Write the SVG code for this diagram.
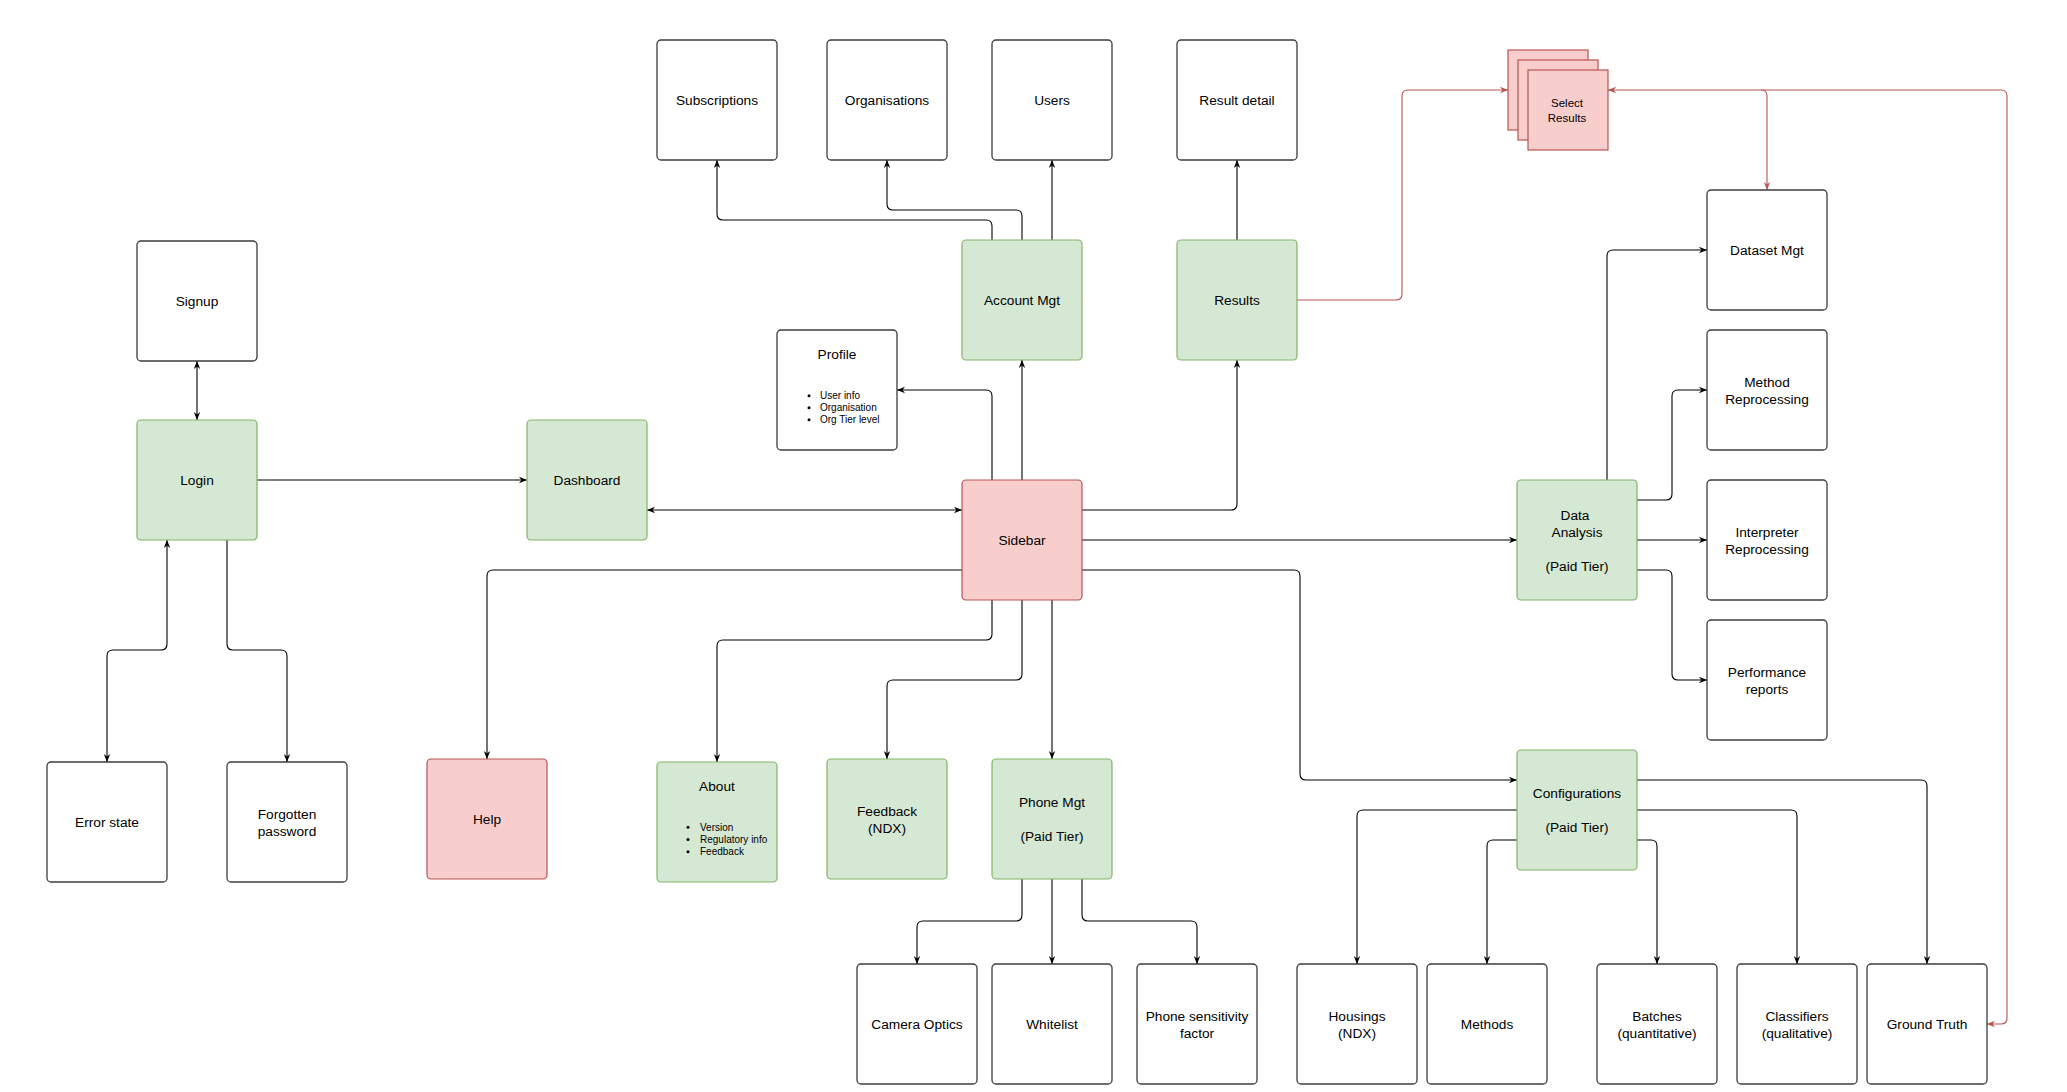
<svg xmlns="http://www.w3.org/2000/svg" width="2067" height="1092" viewBox="0 0 2067 1092">
<style>
text{font-family:"Liberation Sans",Arial,Helvetica,sans-serif;font-size:13.7px;fill:#000;text-anchor:middle}
.sm{font-size:10px;text-anchor:start}
.sr{font-size:11.5px}
.w{fill:#fff;stroke:#3c3c3c;stroke-width:1.3}
.g{fill:#d5e8d4;stroke:#82b366;stroke-width:1.2}
.r{fill:#f8cecc;stroke:#b85450;stroke-width:1.2}
.c{fill:none;stroke:#000;stroke-width:1.1}
.cr{fill:none;stroke:#b85450;stroke-width:1.1}
.e{marker-end:url(#ab)}
.b{marker-start:url(#ab);marker-end:url(#ab)}
.er{marker-end:url(#ar)}
.br{marker-start:url(#ar);marker-end:url(#ar)}
</style>
<defs>
<marker id="ab" viewBox="0 0 10 10" refX="10" refY="5" markerWidth="8" markerHeight="8" markerUnits="userSpaceOnUse" orient="auto-start-reverse"><path d="M0,1 L10,5 L0,9 L3,5 z" fill="#000"/></marker>
<marker id="ar" viewBox="0 0 10 10" refX="10" refY="5" markerWidth="8" markerHeight="8" markerUnits="userSpaceOnUse" orient="auto-start-reverse"><path d="M0,1 L10,5 L0,9 L3,5 z" fill="#b85450"/></marker>
</defs>
<rect width="2067" height="1092" fill="#fff"/>
<g id="connectors">
<path class="c b" d="M197 361 V420"/>
<path class="c e" d="M257 480 H527"/>
<path class="c b" d="M962 510 H647"/>
<path class="c b" d="M167 540 V644 Q167 650 161 650 H113 Q107 650 107 656 V762"/>
<path class="c e" d="M227 540 V644 Q227 650 233 650 H281 Q287 650 287 656 V762"/>
<path class="c e" d="M962 570 H493 Q487 570 487 576 V759"/>
<path class="c e" d="M992 600 V634 Q992 640 986 640 H723 Q717 640 717 646 V762"/>
<path class="c e" d="M1022 600 V674 Q1022 680 1016 680 H893 Q887 680 887 686 V759"/>
<path class="c e" d="M1052 600 V759"/>
<path class="c e" d="M1022 480 V360"/>
<path class="c e" d="M992 480 V396 Q992 390 986 390 H897"/>
<path class="c e" d="M992 240 V226 Q992 220 986 220 H723 Q717 220 717 214 V160"/>
<path class="c e" d="M1022 240 V216 Q1022 210 1016 210 H893 Q887 210 887 204 V160"/>
<path class="c e" d="M1052 240 V160"/>
<path class="c e" d="M1237 240 V160"/>
<path class="c e" d="M1082 510 H1231 Q1237 510 1237 504 V360"/>
<path class="c e" d="M1082 540 H1517"/>
<path class="c e" d="M1082 570 H1294 Q1300 570 1300 576 V774 Q1300 780 1306 780 H1517"/>
<path class="c e" d="M1607 480 V256 Q1607 250 1613 250 H1707"/>
<path class="c e" d="M1637 500 H1666 Q1672 500 1672 494 V396 Q1672 390 1678 390 H1707"/>
<path class="c e" d="M1637 540 H1707"/>
<path class="c e" d="M1637 570 H1666 Q1672 570 1672 576 V674 Q1672 680 1678 680 H1707"/>
<path class="c e" d="M1517 810 H1363 Q1357 810 1357 816 V964"/>
<path class="c e" d="M1517 840 H1493 Q1487 840 1487 846 V964"/>
<path class="c e" d="M1637 840 H1651 Q1657 840 1657 846 V964"/>
<path class="c e" d="M1637 810 H1791 Q1797 810 1797 816 V964"/>
<path class="c e" d="M1637 780 H1921 Q1927 780 1927 786 V964"/>
<path class="c e" d="M1022 879 V915 Q1022 921 1016 921 H923 Q917 921 917 927 V964"/>
<path class="c e" d="M1052 879 V964"/>
<path class="c e" d="M1082 879 V915 Q1082 921 1088 921 H1191 Q1197 921 1197 927 V964"/>
<path class="cr er" d="M1297 300 H1396 Q1402 300 1402 294 V96 Q1402 90 1408 90 H1508"/>
<path class="cr br" d="M1608 90 H1761 Q1767 90 1767 96 V190"/>
<path class="cr er" d="M1761 90 H2001 Q2007 90 2007 96 V1018 Q2007 1024 2001 1024 H1987"/>
</g>
<g id="signup"><rect class="w" x="137" y="241" width="120" height="120" rx="4"/><text x="197" y="306">Signup</text></g>
<g id="login"><rect class="g" x="137" y="420" width="120" height="120" rx="4"/><text x="197" y="485">Login</text></g>
<g id="dashboard"><rect class="g" x="527" y="420" width="120" height="120" rx="4"/><text x="587" y="485">Dashboard</text></g>
<g id="error-state"><rect class="w" x="47" y="762" width="120" height="120" rx="4"/><text x="107" y="827">Error state</text></g>
<g id="forgotten-password"><rect class="w" x="227" y="762" width="120" height="120" rx="4"/><text x="287" y="818.5">Forgotten</text><text x="287" y="835.5">password</text></g>
<g id="help"><rect class="r" x="427" y="759" width="120" height="120" rx="4"/><text x="487" y="824">Help</text></g>
<g id="subscriptions"><rect class="w" x="657" y="40" width="120" height="120" rx="4"/><text x="717" y="105">Subscriptions</text></g>
<g id="organisations"><rect class="w" x="827" y="40" width="120" height="120" rx="4"/><text x="887" y="105">Organisations</text></g>
<g id="users"><rect class="w" x="992" y="40" width="120" height="120" rx="4"/><text x="1052" y="105">Users</text></g>
<g id="result-detail"><rect class="w" x="1177" y="40" width="120" height="120" rx="4"/><text x="1237" y="105">Result detail</text></g>
<g id="account-mgt"><rect class="g" x="962" y="240" width="120" height="120" rx="4"/><text x="1022" y="305">Account Mgt</text></g>
<g id="results"><rect class="g" x="1177" y="240" width="120" height="120" rx="4"/><text x="1237" y="305">Results</text></g>
<g id="profile"><rect class="w" x="777" y="330" width="120" height="120" rx="4"/><text x="837" y="359">Profile</text>
<circle cx="809" cy="395.7" r="1.5"/><circle cx="809" cy="407.7" r="1.5"/><circle cx="809" cy="419.7" r="1.5"/>
<text class="sm" x="820" y="399.2">User info</text><text class="sm" x="820" y="411.2">Organisation</text><text class="sm" x="820" y="423.2">Org Tier level</text></g>
<g id="sidebar"><rect class="r" x="962" y="480" width="120" height="120" rx="4"/><text x="1022" y="545">Sidebar</text></g>
<g id="about"><rect class="g" x="657" y="762" width="120" height="120" rx="4"/><text x="717" y="791">About</text>
<circle cx="688" cy="827.3" r="1.5"/><circle cx="688" cy="839.5" r="1.5"/><circle cx="688" cy="851.7" r="1.5"/>
<text class="sm" x="700" y="830.8">Version</text><text class="sm" x="700" y="843">Regulatory info</text><text class="sm" x="700" y="855.2">Feedback</text></g>
<g id="feedback"><rect class="g" x="827" y="759" width="120" height="120" rx="4"/><text x="887" y="816">Feedback</text><text x="887" y="833">(NDX)</text></g>
<g id="phone-mgt"><rect class="g" x="992" y="759" width="120" height="120" rx="4"/><text x="1052" y="807">Phone Mgt</text><text x="1052" y="841">(Paid Tier)</text></g>
<g id="camera-optics"><rect class="w" x="857" y="964" width="120" height="120" rx="4"/><text x="917" y="1029">Camera Optics</text></g>
<g id="whitelist"><rect class="w" x="992" y="964" width="120" height="120" rx="4"/><text x="1052" y="1029">Whitelist</text></g>
<g id="phone-sensitivity"><rect class="w" x="1137" y="964" width="120" height="120" rx="4"/><text x="1197" y="1020.5">Phone sensitivity</text><text x="1197" y="1037.5">factor</text></g>
<g id="select-results">
<rect class="r" x="1508" y="50" width="80" height="80"/>
<rect class="r" x="1518" y="60" width="80" height="80"/>
<rect class="r" x="1528" y="70" width="80" height="80"/>
<text class="sr" x="1567" y="106.8">Select</text><text class="sr" x="1567" y="121.8">Results</text></g>
<g id="dataset-mgt"><rect class="w" x="1707" y="190" width="120" height="120" rx="4"/><text x="1767" y="255">Dataset Mgt</text></g>
<g id="method-reprocessing"><rect class="w" x="1707" y="330" width="120" height="120" rx="4"/><text x="1767" y="386.5">Method</text><text x="1767" y="403.5">Reprocessing</text></g>
<g id="data-analysis"><rect class="g" x="1517" y="480" width="120" height="120" rx="4"/><text x="1575" y="519.5">Data</text><text x="1577" y="536.5">Analysis</text><text x="1577" y="570.5">(Paid Tier)</text></g>
<g id="interpreter-reprocessing"><rect class="w" x="1707" y="480" width="120" height="120" rx="4"/><text x="1767" y="536.5">Interpreter</text><text x="1767" y="553.5">Reprocessing</text></g>
<g id="performance-reports"><rect class="w" x="1707" y="620" width="120" height="120" rx="4"/><text x="1767" y="676.5">Performance</text><text x="1767" y="693.5">reports</text></g>
<g id="configurations"><rect class="g" x="1517" y="750" width="120" height="120" rx="4"/><text x="1577" y="798">Configurations</text><text x="1577" y="832">(Paid Tier)</text></g>
<g id="housings"><rect class="w" x="1297" y="964" width="120" height="120" rx="4"/><text x="1357" y="1020.5">Housings</text><text x="1357" y="1037.5">(NDX)</text></g>
<g id="methods"><rect class="w" x="1427" y="964" width="120" height="120" rx="4"/><text x="1487" y="1029">Methods</text></g>
<g id="batches"><rect class="w" x="1597" y="964" width="120" height="120" rx="4"/><text x="1657" y="1020.5">Batches</text><text x="1657" y="1037.5">(quantitative)</text></g>
<g id="classifiers"><rect class="w" x="1737" y="964" width="120" height="120" rx="4"/><text x="1797" y="1020.5">Classifiers</text><text x="1797" y="1037.5">(qualitative)</text></g>
<g id="ground-truth"><rect class="w" x="1867" y="964" width="120" height="120" rx="4"/><text x="1927" y="1029">Ground Truth</text></g>
</svg>
